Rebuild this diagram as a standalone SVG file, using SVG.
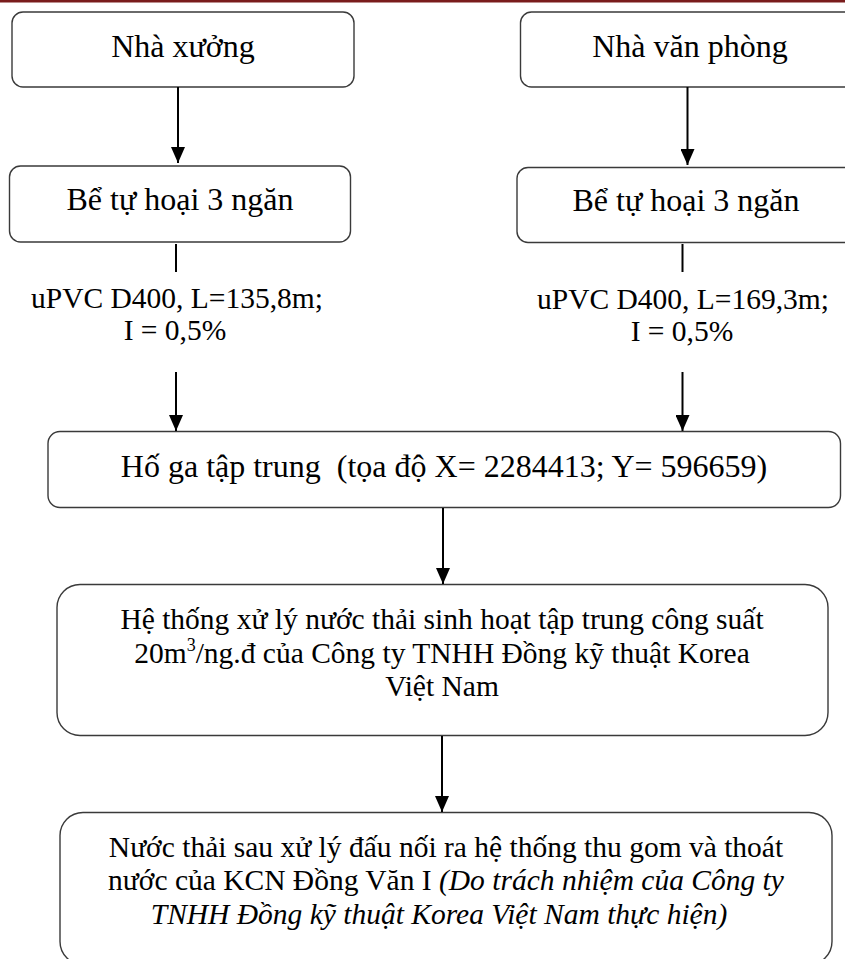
<svg xmlns="http://www.w3.org/2000/svg" width="845" height="959" viewBox="0 0 845 959">
  <defs>
    <style>
      .box { fill: #ffffff; stroke: #3a3a3a; stroke-width: 1.4; }
      .t { font-family: "Liberation Serif", "Times New Roman", serif; fill: #000000; text-anchor: middle; }
      .big { font-size: 32px; }
      .small { font-size: 29.5px; }
      .link { stroke: #000000; stroke-width: 2; fill: none; }
      .head { fill: #000000; }
    </style>
    <marker id="arrow" viewBox="0 0 16 14" refX="16" refY="7" markerWidth="16" markerHeight="14" markerUnits="userSpaceOnUse" orient="auto">
      <path class="head" d="M0,0 L16,7 L0,14 Z"/>
    </marker>
  </defs>

  <!-- header rule -->
  <rect x="0" y="0" width="845" height="2.5" fill="#7a1c1c"/>

  <g id="nha-xuong">
    <rect class="box" x="12" y="12" width="342" height="75" rx="11"/>
    <text class="t big" x="183" y="57">Nhà xưởng</text>
  </g>

  <g id="nha-van-phong">
    <rect class="box" x="520.5" y="12" width="340" height="75" rx="11"/>
    <text class="t big" x="690" y="57">Nhà văn phòng</text>
  </g>

  <g id="be-tu-hoai-1">
    <rect class="box" x="9.5" y="166" width="341" height="76" rx="11"/>
    <text class="t big" x="180" y="210">Bể tự hoại 3 ngăn</text>
  </g>

  <g id="be-tu-hoai-2">
    <rect class="box" x="517" y="167.5" width="340" height="75" rx="11"/>
    <text class="t big" x="686" y="211">Bể tự hoại 3 ngăn</text>
  </g>

  <g id="ong-1">
    <text class="t small" x="177" y="308">uPVC D400, L=135,8m;</text>
    <text class="t small" x="175" y="340">I = 0,5%</text>
  </g>

  <g id="ong-2">
    <text class="t small" x="683" y="309">uPVC D400, L=169,3m;</text>
    <text class="t small" x="682" y="341">I = 0,5%</text>
  </g>

  <g id="ho-ga">
    <rect class="box" x="48" y="431.5" width="792.5" height="76" rx="12"/>
    <text class="t big" x="444" y="477">Hố ga tập trung &#160;(tọa độ X= 2284413; Y= 596659)</text>
  </g>

  <g id="he-thong-xu-ly">
    <rect class="box" x="57" y="584.5" width="771" height="151" rx="23"/>
    <text class="t small" x="442" y="629">Hệ thống xử lý nước thải sinh hoạt tập trung công suất</text>
    <text class="t small" x="442" y="663">20m<tspan font-size="18" dy="-12">3</tspan><tspan dy="12">/ng.đ của Công ty TNHH Đồng kỹ thuật Korea</tspan></text>
    <text class="t small" x="442" y="696">Việt Nam</text>
  </g>

  <g id="dau-noi">
    <rect class="box" x="60" y="812.5" width="772" height="152" rx="23"/>
    <text class="t small" x="446" y="857">Nước thải sau xử lý đấu nối ra hệ thống thu gom và thoát</text>
    <text class="t small" x="446" y="890">nước của KCN Đồng Văn I <tspan font-style="italic">(Do trách nhiệm của Công ty</tspan></text>
    <text class="t small" x="439" y="924" font-style="italic">TNHH Đồng kỹ thuật Korea Việt Nam thực hiện)</text>
  </g>

  <g id="connectors">
    <line class="link" x1="178" y1="87" x2="178" y2="163" marker-end="url(#arrow)"/>
    <line class="link" x1="687.5" y1="87" x2="687.5" y2="165" marker-end="url(#arrow)"/>
    <line class="link" x1="176" y1="244" x2="176" y2="272"/>
    <line class="link" x1="682.5" y1="244" x2="682.5" y2="272"/>
    <line class="link" x1="176" y1="372" x2="176" y2="431" marker-end="url(#arrow)"/>
    <line class="link" x1="682.5" y1="372" x2="682.5" y2="431" marker-end="url(#arrow)"/>
    <line class="link" x1="443" y1="508" x2="443" y2="584" marker-end="url(#arrow)"/>
    <line class="link" x1="442" y1="736" x2="442" y2="812" marker-end="url(#arrow)"/>
  </g>
</svg>
